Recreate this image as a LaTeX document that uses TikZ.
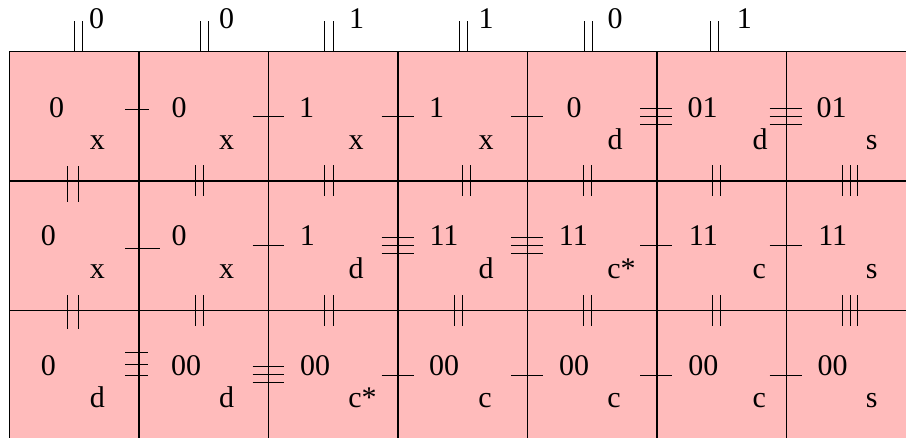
\documentclass[tikz,border=0pt]{standalone}
\usepackage{fontspec}
\setmainfont{Liberation Serif}
\usepackage{xcolor}
\usetikzlibrary{positioning}
\definecolor{cellpink}{RGB}{255,187,187}
\tikzset{
  cell/.style={rectangle, draw=black, fill=cellpink, minimum size=51.8pt,
               inner sep=0pt, outer sep=0pt, line width=0.45pt},
  lbl/.style={font=\fontsize{12}{14}\selectfont, inner sep=0pt, anchor=base},
  tickln/.style={draw=black, line width=0.45pt},
}

\begin{document}
\begin{tikzpicture}[x=0.4pt, y=-0.4pt]
  \useasboundingbox (0,0) rectangle (906,438);
  \clip (0,0) rectangle (906,438);

  % grid of cells
  \node[cell, anchor=north west] (u0) at (9.5,51.5) {};
  \node[cell, right=0pt of u0] (u1) {};
  \node[cell, right=0pt of u1] (u2) {};
  \node[cell, right=0pt of u2] (u3) {};
  \node[cell, right=0pt of u3] (u4) {};
  \node[cell, right=0pt of u4] (u5) {};
  \node[cell, right=0pt of u5] (u6) {};
  \node[cell, below=0pt of u0] (m0) {};
  \node[cell, right=0pt of m0] (m1) {};
  \node[cell, right=0pt of m1] (m2) {};
  \node[cell, right=0pt of m2] (m3) {};
  \node[cell, right=0pt of m3] (m4) {};
  \node[cell, right=0pt of m4] (m5) {};
  \node[cell, right=0pt of m5] (m6) {};
  \node[cell, below=0pt of m0] (l0) {};
  \node[cell, right=0pt of l0] (l1) {};
  \node[cell, right=0pt of l1] (l2) {};
  \node[cell, right=0pt of l2] (l3) {};
  \node[cell, right=0pt of l3] (l4) {};
  \node[cell, right=0pt of l4] (l5) {};
  \node[cell, right=0pt of l5] (l6) {};

  % labels above the grid
  \node[lbl] (h0) at (96.7,28.3) {0};
  \node[lbl] (h1) at (226.7,28.3) {0};
  \node[lbl] (h2) at (356.7,28.3) {1};
  \node[lbl] (h3) at (486,28.3) {1};
  \node[lbl] (h4) at (615,28.3) {0};
  \node[lbl] (h5) at (744.3,28.3) {1};

  % upper row
  \node[lbl] (u0v) at (56.7,118) {0};   \node[lbl] (u0t) at (97.3,149.3) {x};
  \node[lbl] (u1v) at (179,118) {0};    \node[lbl] (u1t) at (226.7,149.3) {x};
  \node[lbl] (u2v) at (306.7,118) {1};  \node[lbl] (u2t) at (356,149.3) {x};
  \node[lbl] (u3v) at (436.7,118) {1};  \node[lbl] (u3t) at (486,149.3) {x};
  \node[lbl] (u4v) at (574,118) {0};    \node[lbl] (u4t) at (615,149.3) {d};
  \node[lbl] (u5v) at (702.7,118) {01}; \node[lbl] (u5t) at (760,149.3) {d};
  \node[lbl] (u6v) at (831.7,118) {01}; \node[lbl] (u6t) at (871.7,149.3) {s};

  % middle row
  \node[lbl] (m0v) at (48.3,246) {0};   \node[lbl] (m0t) at (97.3,278.4) {x};
  \node[lbl] (m1v) at (179,246) {0};    \node[lbl] (m1t) at (226.7,278.4) {x};
  \node[lbl] (m2v) at (307.3,246) {1};  \node[lbl] (m2t) at (356,278.4) {d};
  \node[lbl] (m3v) at (444,246) {11};   \node[lbl] (m3t) at (486,278.4) {d};
  \node[lbl] (m4v) at (573.3,246) {11}; \node[lbl] (m4t) at (621.5,278.4) {c*};
  \node[lbl] (m5v) at (703.3,246) {11}; \node[lbl] (m5t) at (759.3,278.4) {c};
  \node[lbl] (m6v) at (832.7,246) {11}; \node[lbl] (m6t) at (871.7,278.4) {s};

  % lower row
  \node[lbl] (l0v) at (48.3,375.3) {0};   \node[lbl] (l0t) at (97.3,407.5) {d};
  \node[lbl] (l1v) at (186,375.3) {00};   \node[lbl] (l1t) at (226.7,407.5) {d};
  \node[lbl] (l2v) at (315,375.3) {00};   \node[lbl] (l2t) at (362.5,407.5) {c*};
  \node[lbl] (l3v) at (444,375.3) {00};   \node[lbl] (l3t) at (485,407.5) {c};
  \node[lbl] (l4v) at (574,375.3) {00};   \node[lbl] (l4t) at (614,407.5) {c};
  \node[lbl] (l5v) at (703.3,375.3) {00}; \node[lbl] (l5t) at (759.3,407.5) {c};
  \node[lbl] (l6v) at (832.7,375.3) {00}; \node[lbl] (l6t) at (871.7,407.5) {s};

  % ticks on the top edge
  \draw[tickln] (74.5,21.5) -- (74.5,51.5) (82.5,21.5) -- (82.5,51.5);
  \draw[tickln] (200.5,21.5) -- (200.5,51.5) (208.5,21.5) -- (208.5,51.5);
  \draw[tickln] (324.5,21.5) -- (324.5,51.5) (333.5,21.5) -- (333.5,51.5);
  \draw[tickln] (459.5,21.5) -- (459.5,51.5) (467.5,21.5) -- (467.5,51.5);
  \draw[tickln] (584.5,21.5) -- (584.5,51.5) (592.5,21.5) -- (592.5,51.5);
  \draw[tickln] (710.5,21.5) -- (710.5,51.5) (718.5,21.5) -- (718.5,51.5);

  % ticks between upper and middle row
  \draw[tickln] (67.5,166.5) -- (67.5,202.5) (78.5,166.5) -- (78.5,202.5);
  \draw[tickln] (195.5,165.5) -- (195.5,196.5) (203.5,165.5) -- (203.5,196.5);
  \draw[tickln] (324.5,165.5) -- (324.5,196.5) (333.5,165.5) -- (333.5,196.5);
  \draw[tickln] (462.5,165.5) -- (462.5,196.5) (470.5,165.5) -- (470.5,196.5);
  \draw[tickln] (583.5,165.5) -- (583.5,196.5) (591.5,165.5) -- (591.5,196.5);
  \draw[tickln] (712.5,165.5) -- (712.5,196.5) (720.5,165.5) -- (720.5,196.5);
  \draw[tickln] (842.5,165.5) -- (842.5,196.5) (850.5,165.5) -- (850.5,196.5)
                (857.5,165.5) -- (857.5,196.5);

  % ticks between middle and lower row
  \draw[tickln] (67.5,295.5) -- (67.5,329.5) (78.5,295.5) -- (78.5,329.5);
  \draw[tickln] (195.5,295.5) -- (195.5,326.5) (203.5,295.5) -- (203.5,326.5);
  \draw[tickln] (324.5,295.5) -- (324.5,326.5) (333.5,295.5) -- (333.5,326.5);
  \draw[tickln] (454.5,295.5) -- (454.5,326.5) (462.5,295.5) -- (462.5,326.5);
  \draw[tickln] (583.5,295.5) -- (583.5,326.5) (591.5,295.5) -- (591.5,326.5);
  \draw[tickln] (712.5,295.5) -- (712.5,326.5) (720.5,295.5) -- (720.5,326.5);
  \draw[tickln] (842.5,295.5) -- (842.5,326.5) (850.5,295.5) -- (850.5,326.5)
                (857.5,295.5) -- (857.5,326.5);

  % ticks across the column lines, upper row
  \draw[tickln] (125,109.5) -- (148.5,109.5);
  \draw[tickln] (252.5,116.5) -- (284,116.5);
  \draw[tickln] (381.5,116.5) -- (413.5,116.5);
  \draw[tickln] (511,116.5) -- (542.5,116.5);
  \draw[tickln] (640,108.5) -- (671.5,108.5) (640,116.5) -- (671.5,116.5)
                (640,124.5) -- (671.5,124.5);
  \draw[tickln] (769.5,108.5) -- (801.5,108.5) (769.5,116.5) -- (801.5,116.5)
                (769.5,124.5) -- (801.5,124.5);

  % ticks across the column lines, middle row
  \draw[tickln] (125,248.5) -- (160,248.5);
  \draw[tickln] (252.5,245.5) -- (284,245.5);
  \draw[tickln] (381.5,237.5) -- (413.5,237.5) (381.5,245.5) -- (413.5,245.5)
                (381.5,253.5) -- (413.5,253.5);
  \draw[tickln] (511,237.5) -- (542.5,237.5) (511,245.5) -- (542.5,245.5)
                (511,253.5) -- (542.5,253.5);
  \draw[tickln] (640,245.5) -- (671.5,245.5);
  \draw[tickln] (769.5,245.5) -- (801.5,245.5);

  % ticks across the column lines, lower row
  \draw[tickln] (125,352.5) -- (147.5,352.5) (125,364.5) -- (147.5,364.5)
                (125,375.5) -- (147.5,375.5);
  \draw[tickln] (252.5,366.5) -- (284,366.5) (252.5,374.5) -- (284,374.5)
                (252.5,382.5) -- (284,382.5);
  \draw[tickln] (381.5,375.5) -- (413.5,375.5);
  \draw[tickln] (511,375.5) -- (542.5,375.5);
  \draw[tickln] (640,375.5) -- (671.5,375.5);
  \draw[tickln] (769.5,375.5) -- (801.5,375.5);
\end{tikzpicture}
\end{document}
